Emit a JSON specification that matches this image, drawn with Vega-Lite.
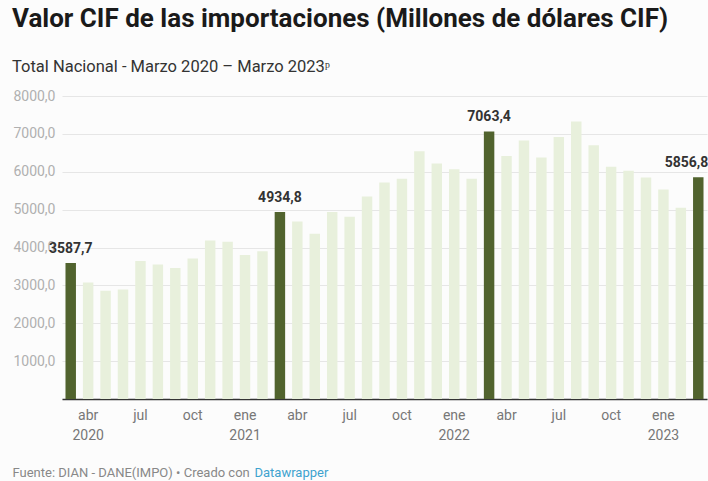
{
  "$schema": "https://vega.github.io/schema/vega-lite/v6.json",
  "width": 645,
  "height": 303,
  "autosize": {"type": "none"},
  "padding": {"left": 62, "top": 96, "right": 1, "bottom": 82},
  "background": "#fcfcfc",
  "config": {
    "font": "Roboto",
    "view": {"stroke": null},
    "locale": {"number": {"decimal": ",", "thousands": ".", "grouping": [3], "currency": ["$", ""]}}
  },
  "title": {
    "text": "Valor CIF de las importaciones (Millones de dólares CIF)",
    "subtitle": "Total Nacional - Marzo 2020 – Marzo 2023ᵖ",
    "anchor": "start",
    "frame": "group",
    "dx": -50,
    "offset": 14,
    "font": "Roboto",
    "fontSize": 26,
    "fontWeight": "bold",
    "color": "#1a1a1a",
    "subtitleFont": "Roboto",
    "subtitleFontSize": 16.5,
    "subtitleColor": "#333333",
    "subtitlePadding": 27
  },
  "data": {
    "values": [
      {"mes": "2020-03", "valor": 3587.7},
      {"mes": "2020-04", "valor": 3078},
      {"mes": "2020-05", "valor": 2858},
      {"mes": "2020-06", "valor": 2893},
      {"mes": "2020-07", "valor": 3646},
      {"mes": "2020-08", "valor": 3548},
      {"mes": "2020-09", "valor": 3460},
      {"mes": "2020-10", "valor": 3707},
      {"mes": "2020-11", "valor": 4185},
      {"mes": "2020-12", "valor": 4150},
      {"mes": "2021-01", "valor": 3805},
      {"mes": "2021-02", "valor": 3902},
      {"mes": "2021-03", "valor": 4934.8},
      {"mes": "2021-04", "valor": 4689},
      {"mes": "2021-05", "valor": 4362},
      {"mes": "2021-06", "valor": 4937},
      {"mes": "2021-07", "valor": 4813},
      {"mes": "2021-08", "valor": 5344},
      {"mes": "2021-09", "valor": 5716},
      {"mes": "2021-10", "valor": 5813},
      {"mes": "2021-11", "valor": 6539},
      {"mes": "2021-12", "valor": 6220},
      {"mes": "2022-01", "valor": 6069},
      {"mes": "2022-02", "valor": 5813},
      {"mes": "2022-03", "valor": 7063.4},
      {"mes": "2022-04", "valor": 6414},
      {"mes": "2022-05", "valor": 6822},
      {"mes": "2022-06", "valor": 6379},
      {"mes": "2022-07", "valor": 6919},
      {"mes": "2022-08", "valor": 7326},
      {"mes": "2022-09", "valor": 6698},
      {"mes": "2022-10", "valor": 6132},
      {"mes": "2022-11", "valor": 6025},
      {"mes": "2022-12", "valor": 5849},
      {"mes": "2023-01", "valor": 5530},
      {"mes": "2023-02", "valor": 5052},
      {"mes": "2023-03", "valor": 5856.8}
    ]
  },
  "encoding": {
    "y": {
      "field": "valor",
      "type": "quantitative",
      "scale": {"domain": [0, 8000], "nice": false},
      "axis": {
        "values": [0, 1000, 2000, 3000, 4000, 5000, 6000, 7000, 8000],
        "title": null,
        "domain": false,
        "ticks": false,
        "labelPadding": 7,
        "labelFont": "Roboto",
        "labelFontSize": 14,
        "labelColor": "#b0b0b0",
        "gridColor": "#e6e6e6",
        "gridWidth": 1,
        "labelExpr": "datum.value == 0 ? '' : replace(format(datum.value, '.1f'), '.', ',')"
      }
    }
  },
  "layer": [
    {
      "mark": {"type": "bar"},
      "encoding": {
        "x": {
          "field": "mes",
          "type": "ordinal",
          "scale": {"paddingInner": 0.4, "paddingOuter": 0.2},
          "axis": {
            "orient": "bottom",
            "values": ["2020-04", "2020-07", "2020-10", "2021-01", "2021-04", "2021-07", "2021-10", "2022-01", "2022-04", "2022-07", "2022-10", "2023-01"],
            "labelExpr": "(slice(datum.value, 5) == '01' || datum.value == '2020-04') ? [ (slice(datum.value, 5) == '01' ? 'ene' : 'abr'), slice(datum.value, 0, 4)] : (slice(datum.value, 5) == '04' ? 'abr' : slice(datum.value, 5) == '07' ? 'jul' : 'oct')",
            "labelAngle": 0,
            "labelFont": "Roboto",
            "labelFontSize": 14,
            "labelColor": "#777777",
            "labelPadding": 9,
            "labelLineHeight": 20,
            "ticks": false,
            "grid": false,
            "domain": true,
            "domainColor": "#333333",
            "domainWidth": 1.5,
            "title": "Fuente: DIAN - DANE(IMPO) • Creado con",
            "titleFont": "Roboto",
            "titleFontWeight": "normal",
            "titleFontSize": 13,
            "titleColor": "#888888",
            "titleAnchor": "start",
            "titleAlign": "left",
            "titleBaseline": "alphabetic",
            "titleX": -50,
            "titleY": 77
          }
        },
        "color": {
          "condition": {"test": "slice(datum.mes, 5) == '03'", "value": "#51632e"},
          "value": "#e8f0dc"
        }
      }
    },
    {
      "transform": [{"filter": "slice(datum.mes, 5) == '03' && datum.mes != '2023-03'"}],
      "mark": {"type": "text", "baseline": "bottom", "dy": -7, "font": "Roboto", "fontSize": 14, "fontWeight": "bold", "color": "#333333"},
      "encoding": {
        "x": {
          "field": "mes",
          "type": "ordinal",
          "axis": {
            "orient": "bottom",
            "labels": false,
            "ticks": false,
            "domain": false,
            "grid": false,
            "title": "Datawrapper",
            "titleFont": "Roboto",
            "titleFontWeight": "normal",
            "titleFontSize": 13,
            "titleColor": "#3ea3cf",
            "titleAnchor": "start",
            "titleAlign": "left",
            "titleBaseline": "alphabetic",
            "titleX": 192,
            "titleY": 77
          }
        },
        "text": {"field": "valor", "type": "quantitative", "format": ".1f"}
      }
    },
    {
      "transform": [{"filter": "datum.mes == '2023-03'"}],
      "mark": {"type": "text", "baseline": "bottom", "align": "right", "dx": 10, "dy": -7, "font": "Roboto", "fontSize": 14, "fontWeight": "bold", "color": "#333333"},
      "encoding": {
        "x": {"field": "mes", "type": "ordinal", "axis": null},
        "text": {"field": "valor", "type": "quantitative", "format": ".1f"}
      }
    }
  ],
  "resolve": {"axis": {"x": "independent"}}
}
